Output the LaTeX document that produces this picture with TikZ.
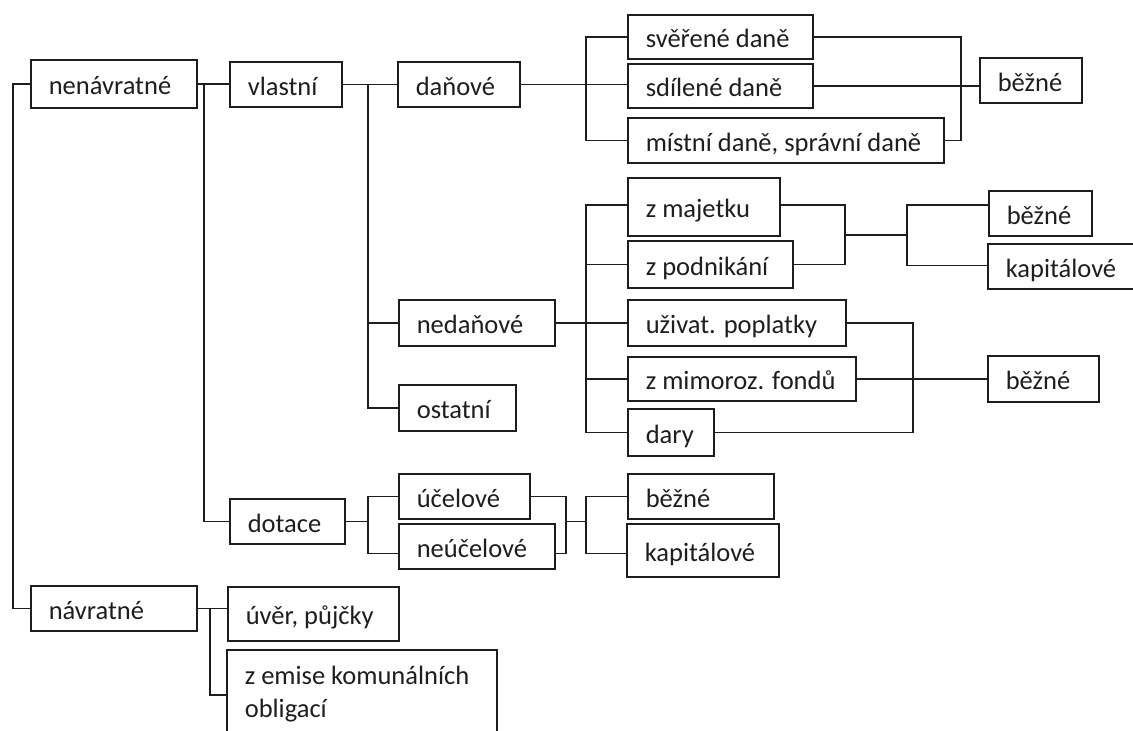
\documentclass[tikz,border=0pt]{standalone}
\usepackage{fontspec}
\setmainfont{Carlito}
\definecolor{ink}{HTML}{1E1E1E}
\tikzset{
  link/.style={draw=ink, line width=1.6pt},
  box/.style={draw=ink, line width=1.6pt, rectangle, anchor=north west,
    inner xsep=18pt, inner ysep=0pt, text=ink,
    font=\fontsize{26.5}{33}\selectfont},
  oneline/.style={text height=24pt, text depth=2.6pt},
}
% \bx{name}{left}{top}{width}{height}{text}
\newcommand\bx[6]{%
  \pgfmathsetmacro\bxtw{#4-36}%
  \node[box, oneline, minimum width=#4pt, minimum height=#5pt] (#1) at (#2,#3)
    {\makebox[\bxtw pt][l]{#6}};}
\begin{document}
\begin{tikzpicture}[x=1pt, y=-1pt]
\fill[white] (0,0) rectangle (1133,731);
\useasboundingbox (0,0) rectangle (1133,731);

% boxes
\bx{nenavr}{30}{59}{166}{48}{nenávratné}
\bx{vlastni}{229}{61}{112}{45}{vlastní}
\bx{danove}{397}{61}{122}{45}{daňové}
\bx{sverene}{627}{14}{185}{44}{svěřené daně}
\bx{sdilene}{627}{63}{185}{44}{sdílené daně}
\bx{mistni}{627}{117}{316}{45}{místní daně, správní daně}
\bx{bezne1}{979}{57}{102}{45}{běžné}
\bx{nedanove}{398}{299}{156}{46}{nedaňové}
\bx{ostatni}{398}{384}{117}{46}{ostatní}
\bx{majetku}{627}{177}{152}{58}{z majetku}
\bx{podnikani}{627}{240}{165}{47}{z podnikání}
\bx{uzivat}{627}{299}{218}{46}{uživat. poplatky}
\bx{mimoroz}{627}{356}{228}{44}{z mimoroz. fondů}
\bx{dary}{627}{408}{86}{47}{dary}
\bx{bezne2}{988}{190}{103}{45}{běžné}
\bx{kapital2}{987}{243}{150}{45}{kapitálové}
\bx{bezne3}{987}{355}{111}{46}{běžné}
\bx{dotace}{229}{498}{115}{45}{dotace}
\bx{ucelove}{398}{473}{131}{45}{účelové}
\bx{neucelove}{398}{523}{156}{45}{neúčelové}
\bx{bezne4}{627}{473}{146}{45}{běžné}
\bx{kapital4}{626}{523}{152}{53}{kapitálové}
\bx{navratne}{30}{585}{166}{45}{návratné}
\bx{uver}{227}{586}{171}{54}{úvěr, půjčky}
\node[box, minimum width=270pt, minimum height=90pt] (emise) at (226,649)
  {\makebox[234pt][l]{\begin{tabular}{@{}l@{}}z emise komunálních\\obligací\end{tabular}}};

% x positions of the vertical trunks
\coordinate (tR) at (13,0);
\coordinate (tA) at (204,0);
\coordinate (tJ) at (210,0);
\coordinate (tB) at (368,0);
\coordinate (tI) at (566,0);
\coordinate (tC) at (586,0);
\coordinate (tF) at (845,0);
\coordinate (tG) at (907,235);
\coordinate (tH) at (913,0);
\coordinate (tD) at (961,0);

% connection points that sit off the box centres
\coordinate (mjW) at ([yshift=2pt]majetku.west);
\coordinate (mjE) at ([yshift=2pt]majetku.east);
\coordinate (kpW) at ([yshift=1pt]kapital2.west);
\coordinate (nuW) at ([yshift=-7pt]neucelove.west);
\coordinate (nuE) at ([yshift=-7pt]neucelove.east);
\coordinate (k4W) at ([yshift=-3pt]kapital4.west);

% root
\draw[link] (nenavr.west) -- (nenavr.west -| tR) |- (navratne.west);
\draw[link] (nenavr.east) -- (nenavr.east -| vlastni.west);
\draw[link] (nenavr.east -| tA) |- (dotace.west);
\draw[link] (navratne.east) -- (navratne.east -| uver.west);
\draw[link] (navratne.east -| tJ) |- (emise.west);

% vlastni
\draw[link] (vlastni.east) -- (vlastni.east -| danove.west);
\draw[link] (vlastni.east -| tB) |- (ostatni.west);
\draw[link] (tB |- nedanove.west) -- (nedanove.west);

% danove
\draw[link] (danove.east) -- (danove.east -| sdilene.west);
\draw[link] (sverene.west) -- (sverene.west -| tC) |- (mistni.west);
\draw[link] (sverene.east) -- (sverene.east -| tD) |- (mistni.east);
\draw[link] (sdilene.east) -- (sdilene.east -| bezne1.west);

% nedanove
\draw[link] (nedanove.east) -- (nedanove.east -| uzivat.west);
\draw[link] (mjW) -- (mjW -| tC) |- (dary.west);
\draw[link] (tC |- podnikani.west) -- (podnikani.west);
\draw[link] (tC |- mimoroz.west) -- (mimoroz.west);
\draw[link] (mjE) -- (mjE -| tF) |- (podnikani.east);
\draw[link] (tF |- tG) -- (tG);
\draw[link] (bezne2.west |- mjE) -| (tG) |- (kpW);
\draw[link] (uzivat.east) -- (uzivat.east -| tH) |- (dary.east);
\draw[link] (mimoroz.east) -- (mimoroz.east -| bezne3.west);

% dotace
\draw[link] (dotace.east) -- (dotace.east -| tB);
\draw[link] (ucelove.west) -- (ucelove.west -| tB) |- (nuW);
\draw[link] (ucelove.east) -- (ucelove.east -| tI) |- (nuE);
\draw[link] (tI |- dotace.east) -- (tC |- dotace.east);
\draw[link] (bezne4.west) -- (bezne4.west -| tC) |- (k4W);
\end{tikzpicture}
\end{document}
